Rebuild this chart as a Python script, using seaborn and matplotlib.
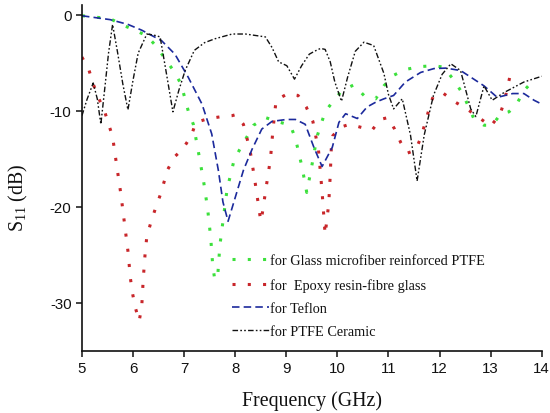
import numpy as np
import pandas as pd
import matplotlib
matplotlib.use("Agg")
import matplotlib.pyplot as plt
import seaborn as sns

# ---------------- data ----------------
glass_f = [5.0, 5.55, 5.81, 6.04, 6.27, 6.46, 6.63, 6.79, 6.94, 7.08, 7.18, 7.28, 7.38,
           7.46, 7.52, 7.56, 7.6, 7.66, 7.7, 7.77, 7.84, 7.97, 8.08, 8.36, 8.59, 8.88,
           9.08, 9.18, 9.31, 9.4, 9.5, 9.6, 9.76, 9.93, 10.09, 10.32, 10.52, 10.75,
           10.91, 11.1, 11.33, 11.6, 11.89, 12.08, 12.28, 12.45, 12.57, 12.67, 12.87,
           13.03, 13.2, 13.36, 13.52, 13.65, 13.88]
glass_s = [-0.1, -0.4, -1.1, -1.6, -2.2, -3.3, -4.6, -5.8, -7.2, -10.0, -11.4, -14.3, -17.3,
           -20.2, -23.2, -26.1, -27.6, -27.0, -24.0, -21.1, -18.2, -15.3, -14.1, -11.5, -10.7, -11.2,
           -11.5, -12.9, -15.9, -18.5, -15.7, -12.7, -10.1, -8.9, -7.9, -7.3, -8.4, -8.75,
           -7.4, -6.3, -5.7, -5.4, -5.3, -5.45, -6.8, -8.2, -9.6, -10.8, -11.5,
           -11.5, -10.3, -10.1, -9.2, -7.9, -6.6]

epoxy_f = [5.0, 5.14, 5.22, 5.32, 5.44, 5.6, 5.68, 5.76, 5.83, 5.9, 5.95, 5.99, 6.04, 6.12,
           6.17, 6.2, 6.24, 6.27, 6.35, 6.43, 6.53, 6.68, 6.81, 6.97, 7.14, 7.23, 7.48, 7.74,
           7.94, 8.01, 8.16, 8.29, 8.38, 8.46, 8.5, 8.53, 8.61, 8.69, 8.74, 8.8, 9.03, 9.23,
           9.39, 9.52, 9.63, 9.7, 9.76, 9.83, 9.86, 9.88, 9.91, 10.06, 10.24, 10.45, 10.68,
           10.84, 10.99, 11.12, 11.24, 11.37, 11.53, 11.64, 11.79, 11.88, 12.08, 12.31, 12.56,
           12.77, 13.0, 13.18, 13.27, 13.39]
epoxy_s = [-4.4, -5.8, -7.2, -8.6, -10.0, -12.7, -15.7, -18.6, -21.6, -24.6, -27.5, -29.0, -30.4, -31.9,
           -30.4, -27.5, -24.6, -23.1, -21.6, -20.3, -18.8, -16.1, -14.8, -14.0, -12.6, -11.2, -10.8, -10.6,
           -10.5, -10.4, -11.4, -14.1, -17.1, -20.0, -21.5, -20.7, -17.8, -15.0, -11.9, -8.9, -8.2, -8.4,
           -9.6, -11.1, -14.1, -18.4, -22.9, -19.7, -16.7, -14.0, -12.6, -11.7, -11.4, -11.7, -12.0,
           -10.9, -10.7, -11.9, -13.3, -14.4, -14.1, -12.7, -9.9, -8.4, -8.2, -9.1, -9.9,
           -10.7, -11.6, -10.4, -9.0, -6.1]

teflon_f = [5.0, 5.55, 5.9, 6.17, 6.56, 6.82, 7.08, 7.35, 7.54, 7.67, 7.76, 7.86, 8.16, 8.33,
            8.52, 8.72, 9.0, 9.18, 9.37, 9.54, 9.7, 9.9, 10.03, 10.16, 10.39, 10.58, 10.75,
            10.91, 11.1, 11.33, 11.63, 11.89, 12.12, 12.41, 12.67, 12.87, 13.13, 13.43, 13.65,
            13.85, 14.0]
teflon_s = [-0.1, -0.5, -1.0, -1.6, -2.7, -4.1, -6.5, -9.3, -12.4, -16.2, -19.5, -21.5, -16.2, -14.0,
            -11.9, -11.1, -10.9, -10.9, -11.4, -13.8, -15.8, -13.8, -11.2, -10.3, -10.8, -9.6, -9.1,
            -8.75, -8.4, -7.0, -6.0, -5.6, -5.55, -5.8, -6.7, -7.4, -8.6, -8.2, -8.2,
            -8.9, -9.3]

ceramic_f = [5.0, 5.1, 5.22, 5.3, 5.37, 5.45, 5.52, 5.6, 5.7, 5.8, 5.9, 6.0, 6.1, 6.27, 6.4,
             6.53, 6.65, 6.78, 6.9, 7.02, 7.2, 7.4, 7.6, 7.94, 8.2, 8.59, 8.72, 8.85, 9.01,
             9.16, 9.3, 9.45, 9.55, 9.67, 9.76, 9.86, 9.95, 10.08, 10.2, 10.35, 10.52, 10.71,
             10.91, 11.0, 11.1, 11.27, 11.43, 11.56, 11.7, 11.88, 12.05, 12.22, 12.41, 12.61,
             12.71, 12.87, 13.03, 13.26, 13.65, 14.0]
ceramic_s = [-10.5, -8.8, -7.1, -8.75, -11.4, -7.5, -4.0, -1.0, -4.0, -7.2, -9.9, -6.8, -4.0, -2.0, -2.1,
             -2.3, -6.0, -10.1, -7.8, -5.8, -3.7, -2.9, -2.5, -2.0, -2.0, -2.3, -3.4, -4.9, -5.3,
             -6.7, -5.3, -4.1, -3.8, -3.5, -3.6, -4.9, -7.0, -9.0, -6.5, -3.8, -2.85, -3.2,
             -6.1, -8.3, -9.8, -8.75, -12.5, -17.3, -12.5, -8.4, -6.2, -5.1, -5.8, -9.8,
             -10.6, -7.4, -8.9, -8.1, -7.0, -6.4]

labels = ["for Glass microfiber reinforced PTFE", "for  Epoxy resin-fibre glass",
          "for Teflon", "for PTFE Ceramic"]
x_ticks = [5, 6, 7, 8, 9, 10, 11, 12, 13, 14]
y_ticks = [0, -10, -20, -30]

# ---------------- style ----------------
sns.set_style("ticks")
plt.rcParams["font.family"] = ["Liberation Serif", "DejaVu Serif"]
plt.rcParams["mathtext.fontset"] = "custom"
plt.rcParams["mathtext.rm"] = "Liberation Serif"
plt.rcParams["mathtext.it"] = "Liberation Serif:italic"

fig = plt.figure(figsize=(5.5, 4.14), dpi=100)
ax = fig.add_axes([0.149, 0.150, 0.836, 0.835])

series = [
    (glass_f, glass_s, "#3ce03c", (0, (1, 4)), 2.2),
    (epoxy_f, epoxy_s, "#c8262a", (0, (1, 4)), 2.2),
    (teflon_f, teflon_s, "#1c2a9c", (0, (4.5, 2.5)), 1.2),
    (ceramic_f, ceramic_s, "#111111", (0, (4, 1.6, 1.2, 1.6, 1.2, 1.6)), 1.0),
]
for (f, s, c, ls, lw), lab in zip(series, labels):
    df = pd.DataFrame({"Frequency": f, "S11": s})
    sns.lineplot(data=df, x="Frequency", y="S11", ax=ax, color=c, linestyle=ls,
                 linewidth=lw, label=lab, dash_capstyle="butt")

ax.set_xlim(5, 14)
ax.set_ylim(-35, 1)
ax.set_xticks(x_ticks)
ax.set_yticks(y_ticks)
ax.set_xticklabels([str(v) for v in x_ticks], fontfamily="Liberation Sans", fontsize=10.8)
ax.set_yticklabels([str(v) for v in y_ticks], fontfamily="Liberation Sans", fontsize=10.8)
ax.tick_params(axis="both", direction="out", length=4, width=1.1, color="#111111",
               labelcolor="#111111", pad=3.5)
for sp in ["left", "bottom"]:
    ax.spines[sp].set_linewidth(1.2)
    ax.spines[sp].set_color("#111111")
sns.despine(ax=ax)

ax.set_xlabel("Frequency (GHz)", fontsize=14.3, color="#111111", labelpad=11)
ax.set_ylabel("S$_{11}$ (dB)", fontsize=14.3, color="#111111")
ax.yaxis.set_label_coords(-0.113, 0.446)

leg = ax.legend(loc="center left", bbox_to_anchor=(0.326, 0.158), frameon=False,
                fontsize=10.3, handlelength=2.6, handletextpad=0.1, labelspacing=0.72,
                borderpad=0, borderaxespad=0)
for t in leg.get_texts():
    t.set_color("#111111")

fig.savefig("out.png", dpi=100, facecolor="white")
